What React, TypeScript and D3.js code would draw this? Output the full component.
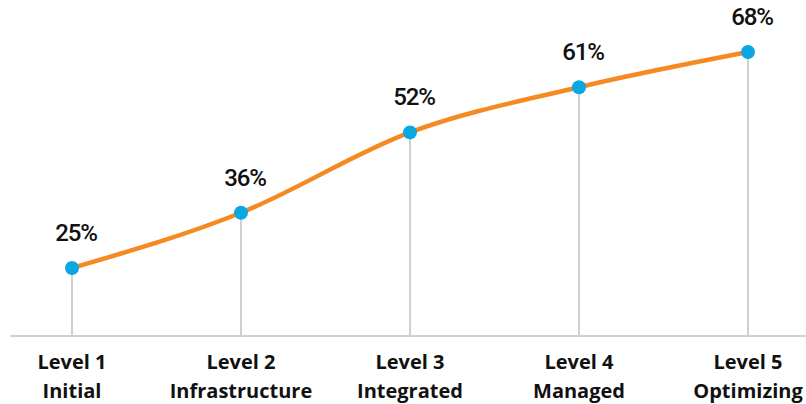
import { useEffect, useRef } from "react";
import * as d3 from "d3";

const levels = ["Level 1", "Level 2", "Level 3", "Level 4", "Level 5"];
const stages = ["Initial", "Infrastructure", "Integrated", "Managed", "Optimizing"];
const values = [25, 36, 52, 61, 68];

const W = 806;
const H = 404;

const Chart = () => {
  const ref = useRef<SVGSVGElement | null>(null);

  useEffect(() => {
    drawChart();
  }, []);

  const drawChart = () => {
    const svg = d3.select(ref.current);
    svg.selectAll("*").remove();

    const baseY = 336;

    const xScale = d3.scalePoint<string>().domain(levels).range([72, 748]);
    const yScale = d3.scaleLinear().domain([0, 70]).range([393.5, 42]);

    const data = levels.map((l, i) => ({ level: l, stage: stages[i], value: values[i] }));

    // baseline
    svg
      .append("line")
      .attr("x1", 10)
      .attr("x2", W)
      .attr("y1", baseY)
      .attr("y2", baseY)
      .attr("stroke", "#d0d0d0")
      .attr("stroke-width", 2);

    // drop lines
    svg
      .selectAll(".drop")
      .data(data)
      .join("line")
      .attr("class", "drop")
      .attr("x1", (d) => xScale(d.level)!)
      .attr("x2", (d) => xScale(d.level)!)
      .attr("y1", (d) => yScale(d.value))
      .attr("y2", baseY)
      .attr("stroke", "#d0d0d0")
      .attr("stroke-width", 2);

    const line = d3
      .line<any>()
      .x((d) => xScale(d.level)!)
      .y((d) => yScale(d.value))
      .curve(d3.curveMonotoneX);

    svg
      .append("path")
      .datum(data)
      .attr("d", line)
      .attr("fill", "none")
      .attr("stroke", "#f58a22")
      .attr("stroke-width", 4.5)
      .attr("stroke-linecap", "round");

    svg
      .selectAll(".dot")
      .data(data)
      .join("circle")
      .attr("class", "dot")
      .attr("cx", (d) => xScale(d.level)!)
      .attr("cy", (d) => yScale(d.value))
      .attr("r", 7)
      .attr("fill", "#0aa7e2");

    // value labels
    svg
      .selectAll(".val")
      .data(data)
      .join("text")
      .attr("class", "val")
      .attr("x", (d) => xScale(d.level)! + 4)
      .attr("y", (d) => yScale(d.value) - 27)
      .attr("text-anchor", "middle")
      .attr("font-family", "Roboto, sans-serif")
      .attr("font-weight", 500)
      .attr("font-size", 24)
      .attr("letter-spacing", -1.2)
      .attr("fill", "#111")
      .text((d) => `${d.value}%`);

    // category labels
    const cat = svg
      .selectAll(".cat")
      .data(data)
      .join("text")
      .attr("class", "cat")
      .attr("text-anchor", "middle")
      .attr("font-family", "'Open Sans', sans-serif")
      .attr("font-weight", 700)
      .attr("font-size", 20)
      .attr("fill", "#111");

    cat
      .append("tspan")
      .attr("x", (d) => xScale(d.level)!)
      .attr("y", 369)
      .text((d) => d.level);

    cat
      .append("tspan")
      .attr("x", (d) => xScale(d.level)!)
      .attr("y", 398)
      .text((d) => d.stage);
  };

  return <svg ref={ref} width={W} height={H} style={{ display: "block" }} />;
};

export default function App() {
  return (
    <div style={{ position: "absolute", left: 0, top: 0, width: W, height: H, background: "#fff", overflow: "hidden" }}>
      <Chart />
    </div>
  );
}
